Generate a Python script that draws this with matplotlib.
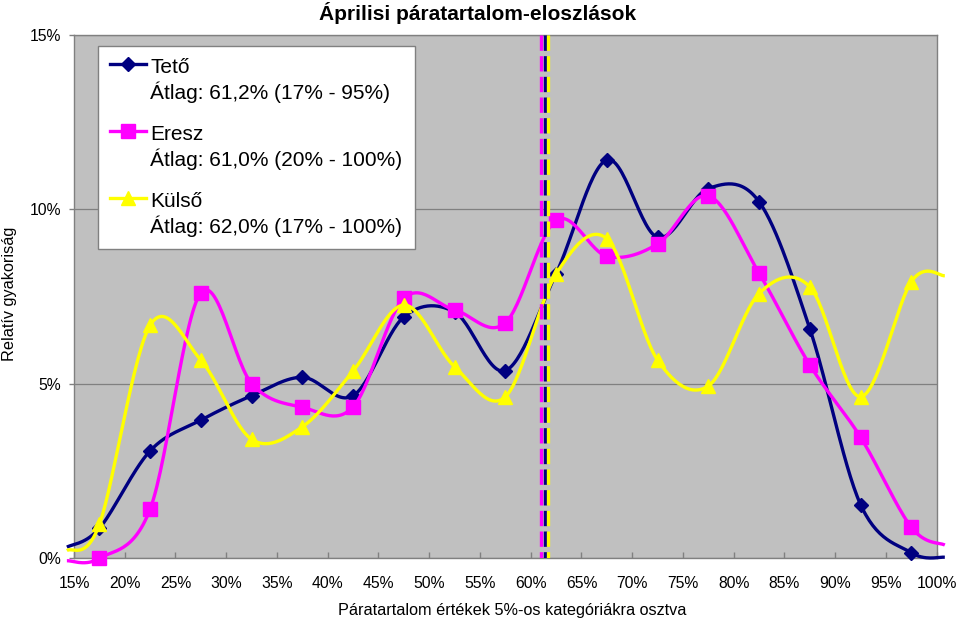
import numpy as np
import matplotlib
matplotlib.use('Agg')
import matplotlib.pyplot as plt
from matplotlib.lines import Line2D
from matplotlib.legend_handler import HandlerLine2D

plt.rcParams['font.family'] = ['Liberation Sans', 'DejaVu Sans']

# ---------------- data ----------------
title = 'Áprilisi páratartalom-eloszlások'
x_label = 'Páratartalom értékek 5%-os kategóriákra osztva'
y_label = 'Relatív gyakoriság'

categories = [17.5, 22.5, 27.5, 32.5, 37.5, 42.5, 47.5, 52.5, 57.5,
              62.5, 67.5, 72.5, 77.5, 82.5, 87.5, 92.5, 97.5]
curve_ends_x = [14.3, 100.8]

teto = [0.86, 3.08, 3.96, 4.66, 5.19, 4.66, 6.92, 7.06, 5.38,
        8.16, 11.42, 9.20, 10.60, 10.22, 6.58, 1.54, 0.16]
eresz = [0.00, 1.41, 7.61, 5.01, 4.33, 4.34, 7.45, 7.12, 6.75,
         9.69, 8.66, 9.01, 10.39, 8.17, 5.54, 3.47, 0.89]
kulso = [0.97, 6.68, 5.68, 3.41, 3.77, 5.37, 7.26, 5.49, 4.63,
         8.15, 9.16, 5.68, 4.94, 7.59, 7.78, 4.63, 7.93]
teto_ends = [0.32, 0.03]
eresz_ends = [-0.07, 0.38]
kulso_ends = [0.22, 8.10]

# positions of the dashed average lines
avg_line_teto = 61.4
avg_line_eresz = 61.0
avg_line_kulso = 61.75

labels = ['Tető\nÁtlag: 61,2% (17% - 95%)',
          'Eresz\nÁtlag: 61,0% (20% - 100%)',
          'Külső\nÁtlag: 62,0% (17% - 100%)']

x_ticks = list(range(15, 101, 5))
y_ticks = [0, 5, 10, 15]

# ---------------- helpers ----------------
def smooth(xs, ys, n=30):
    P = np.column_stack([xs, ys]).astype(float)
    t = np.linspace(0, 1, n + 1)[1:]
    out = [P[0]]
    for i in range(len(P) - 1):
        p0 = P[i - 1] if i > 0 else P[i]
        p1 = P[i]
        p2 = P[i + 1]
        p3 = P[i + 2] if i + 2 < len(P) else P[i + 1]
        b1 = p1 + (p2 - p0) / 6.0
        b2 = p2 - (p3 - p1) / 6.0
        seg = (((1 - t) ** 3)[:, None] * p1 + (3 * (1 - t) ** 2 * t)[:, None] * b1
               + (3 * (1 - t) * t ** 2)[:, None] * b2 + (t ** 3)[:, None] * p2)
        out.extend(seg)
    out = np.array(out)
    return out[:, 0], out[:, 1]


class TopLineHandler(HandlerLine2D):
    def __init__(self, dy, **kw):
        super().__init__(**kw)
        self.dy = dy

    def create_artists(self, legend, orig_handle, xdescent, ydescent,
                       width, height, fontsize, trans):
        arts = super().create_artists(legend, orig_handle, xdescent, ydescent,
                                      width, height, fontsize, trans)
        for a in arts:
            a.set_ydata(np.asarray(a.get_ydata()) + self.dy)
        return arts


# ---------------- figure ----------------
W, H = 960, 621
fig = plt.figure(figsize=(W / 100, H / 100), dpi=100)
fig.patch.set_facecolor('white')
L, R, T, B = 74, 936.7, 35, 558.3
ax = fig.add_axes([L / W, 1 - B / H, (R - L) / W, (B - T) / H])
ax.set_facecolor('#C0C0C0')
ax.set_xlim(15, 100)
ax.set_ylim(0, 15)

series = [
    (teto, teto_ends, '#000080', 'D', 7.0),
    (eresz, eresz_ends, '#FF00FF', 's', 9.5),
    (kulso, kulso_ends, '#FFFF00', '^', 9.5),
]
handles = []
for k, (vals, ends, col, mk, ms) in enumerate(series):
    xs = [curve_ends_x[0]] + categories + [curve_ends_x[1]]
    ys = [ends[0]] + vals + [ends[1]]
    sx, sy = smooth(xs, ys)
    ax.plot(sx, sy, color=col, lw=2.4, clip_on=False, zorder=3 + k,
            solid_capstyle='butt')
    ax.plot(categories, vals, ls='none', marker=mk, ms=ms, color=col,
            markeredgecolor=col, clip_on=False, zorder=3 + k)
    handles.append(Line2D([], [], color=col, lw=2.4, marker=mk, ms=ms,
                          markeredgecolor=col))

for avg, col in [(avg_line_eresz, '#FF00FF'), (avg_line_teto, '#000080'),
                 (avg_line_kulso, '#FFFF00')]:
    ax.plot([avg, avg], [15, 0], color=col, lw=2.4,
            ls=(0, (4.6, 1.6)), zorder=7, dash_capstyle='butt')

# axes styling
for s in ax.spines.values():
    s.set_color('#808080')
    s.set_linewidth(1.0)
ax.yaxis.grid(True, color='#808080', lw=0.9)
ax.set_axisbelow(True)

ax.set_xticks(x_ticks)
ax.set_xticklabels([f'{v}%' for v in x_ticks])
ax.set_yticks(y_ticks)
ax.set_yticklabels([f'{v}%' for v in y_ticks])
ax.tick_params(axis='x', direction='in', length=4, width=1, color='#808080',
               labelsize=11.3, pad=12.5)
ax.tick_params(axis='y', direction='out', length=3.6, width=1, color='#808080',
               labelsize=11.3, pad=5.5)

# texts
fig.text(477.5 / W, 1 - 13.5 / H, title, ha='center', va='center',
         fontsize=15, fontweight='bold')
fig.text(511.7 / W, 1 - 611 / H, x_label, ha='center', va='center',
         fontsize=11.7)
fig.text(9.5 / W, 1 - 294 / H, y_label, ha='center', va='center',
         fontsize=11.7, rotation=90)

# legend
leg_fs = 15
line_spacing = 1.27
pitch_pt = 17.8 - 8.0 + 2.7 - 0.8
hmap = {h: TopLineHandler(pitch_pt, numpoints=1) for h in handles}
leg = fig.legend(handles, labels, loc='upper left',
                 bbox_to_anchor=(98.3 / W, 1 - 45.5 / H),
                 bbox_transform=fig.transFigure,
                 fontsize=leg_fs, frameon=True, fancybox=False, shadow=False,
                 framealpha=1, edgecolor='#808080', facecolor='white',
                 borderpad=0.58, borderaxespad=0, handlelength=1.7,
                 handletextpad=0.22, labelspacing=1.05, handler_map=hmap)
leg.get_frame().set_linewidth(1.0)
for t in leg.get_texts():
    t.set_linespacing(line_spacing)

fig.savefig('out.png', dpi=100)
